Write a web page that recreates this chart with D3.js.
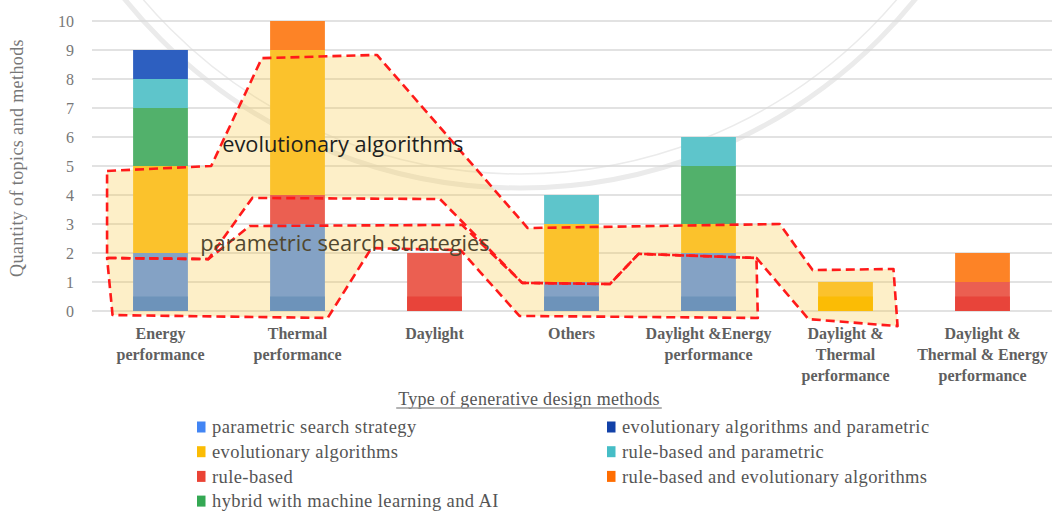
<!DOCTYPE html>
<html>
<head>
<meta charset="utf-8">
<script src="https://cdn.jsdelivr.net/npm/d3@7"></script>
<style>
  body { margin: 0; background: #fff; }
  svg { display: block; }
</style>
</head>
<body>
<div id="chart"></div>
<script>
// categories on the x axis
const categories = ["Energy performance", "Thermal performance", "Daylight", "Others",
  "Daylight & Energy performance", "Daylight & Thermal performance", "Daylight & Thermal & Energy performance"];
const categoryLines = [
  ["Energy", "performance"],
  ["Thermal", "performance"],
  ["Daylight"],
  ["Others"],
  ["Daylight &Energy", "performance"],
  ["Daylight &", "Thermal", "performance"],
  ["Daylight &", "Thermal & Energy", "performance"]
];

// series values (stack order = series order)
const parametric   = [2, 3, 0, 1, 2, 0, 0];
const ruleBased    = [0, 1, 2, 0, 0, 0, 1];
const evolutionary = [3, 5, 0, 2, 1, 1, 0];
const hybrid       = [2, 0, 0, 0, 2, 0, 0];
const ruleParam    = [1, 0, 0, 1, 1, 0, 0];
const evoParam     = [1, 0, 0, 0, 0, 0, 0];
const ruleEvo      = [0, 1, 0, 0, 0, 0, 1];

const seriesKeys = ["parametric", "ruleBased", "evolutionary", "hybrid", "ruleParam", "evoParam", "ruleEvo"];
const seriesValues = { parametric, ruleBased, evolutionary, hybrid, ruleParam, evoParam, ruleEvo };
const seriesLabels = {
  parametric: "parametric search strategy",
  evolutionary: "evolutionary algorithms",
  ruleBased: "rule-based",
  hybrid: "hybrid with machine learning and AI",
  evoParam: "evolutionary algorithms and parametric",
  ruleParam: "rule-based and parametric",
  ruleEvo: "rule-based and evolutionary algorithms"
};
const legendCol1 = ["parametric", "evolutionary", "ruleBased", "hybrid"];
const legendCol2 = ["evoParam", "ruleParam", "ruleEvo"];

const yTicks = [0, 1, 2, 3, 4, 5, 6, 7, 8, 9, 10];

// hand-drawn highlight areas, as [category position, value]
const evoArea = [[0.11, 4.83], [0.87, 5.0], [1.24, 8.72], [2.08, 8.83], [3.18, 2.86], [5.02, 3.0],
  [5.26, 1.41], [5.85, 1.45], [5.88, -0.52], [5.23, -0.28], [4.85, 1.83], [3.99, 1.97],
  [3.78, 0.93], [3.14, 0.97], [2.54, 3.86], [1.17, 3.9], [0.85, 1.79], [0.11, 1.83]];
const paramArea = [[0.11, 1.83], [0.85, 1.79], [1.15, 2.93], [2.7, 2.97], [3.14, 0.97], [3.78, 0.93],
  [3.99, 1.97], [4.85, 1.83], [4.86, -0.24], [3.12, -0.17], [2.69, 2.1], [2.04, 2.17],
  [1.72, -0.24], [0.15, -0.14]];
const areaNotes = [
  { text: "evolutionary algorithms", pos: 0.95, value: 5.76, color: "#1e1e1e" },
  { text: "parametric search strategies", pos: 0.79, value: 2.34, color: "#51472e" }
];

const barColor = {
  parametric: "#84a2c5", evolutionary: "#fbc22c", ruleBased: "#eb5f51", hybrid: "#52b16b",
  ruleParam: "#5ec5cb", evoParam: "#2d5fc0", ruleEvo: "#fd8326"
};
const barBase = {
  parametric: "#6d93ba", evolutionary: "#fbbc05", ruleBased: "#e8443a", hybrid: "#3fa85a",
  ruleParam: "#46bdc6", evoParam: "#1d4fb0", ruleEvo: "#ff6d01"
};
const legendColor = {
  parametric: "#4285f4", evolutionary: "#fbbc04", ruleBased: "#ea4335", hybrid: "#34a853",
  ruleParam: "#46bdc6", evoParam: "#1241a8", ruleEvo: "#ff6d01"
};

const width = 1052, height = 511;
const serif = "'Liberation Serif', 'DejaVu Serif', serif";

const svg = d3.select("#chart").append("svg")
  .attr("width", width).attr("height", height);

const x = d3.scaleBand().domain(categories).range([92, 1051]).paddingInner(0.6).paddingOuter(0.3);
const xPos = d3.scaleLinear().domain([0, categories.length]).range([92, 1051]);
const y = d3.scaleLinear().domain([0, 10]).range([311, 21]);

// faint seal watermark in the background
const wm = svg.append("g").attr("fill", "none").attr("stroke", "#ebebeb");
wm.append("circle").attr("cx", 520).attr("cy", -320).attr("r", 508).attr("stroke-width", 5);
wm.append("circle").attr("cx", 520).attr("cy", -320).attr("r", 494).attr("stroke-width", 1.5);

// gridlines
svg.append("g").selectAll("line").data(yTicks).join("line")
  .attr("x1", 92).attr("x2", width)
  .attr("y1", d => y(d)).attr("y2", d => y(d))
  .attr("stroke", "#d9d9d9").attr("stroke-width", 1.5);

// y tick labels
const yAxis = svg.append("g").attr("transform", "translate(92,0)")
  .call(d3.axisLeft(y).tickValues(yTicks).tickSize(0).tickPadding(18));
yAxis.select(".domain").remove();
yAxis.selectAll("text").attr("font-family", serif).attr("font-size", 16).attr("fill", "#777");

// highlight fills
const area = d3.line().x(d => xPos(d[0])).y(d => y(d[1])).curve(d3.curveLinearClosed);
const areas = svg.append("g");
[evoArea, paramArea].forEach(pts => {
  areas.append("path").attr("d", area(pts))
    .attr("fill", "rgb(249,199,64)").attr("fill-opacity", 0.29).attr("stroke", "none");
});

// stacked bars
const rows = categories.map((c, i) => {
  const r = { category: c };
  seriesKeys.forEach(k => r[k] = seriesValues[k][i]);
  return r;
});
const stacked = d3.stack().keys(seriesKeys)(rows);

const layers = svg.append("g").selectAll("g").data(stacked).join("g");
layers.selectAll("rect.main").data(s => s.map(d => ({ key: s.key, d })).filter(o => o.d[1] > o.d[0]))
  .join("rect").attr("class", "main")
  .attr("x", o => x(o.d.data.category))
  .attr("width", x.bandwidth())
  .attr("y", o => y(o.d[1]))
  .attr("height", o => y(o.d[0]) - y(o.d[1]))
  .attr("fill", o => barColor[o.key]);
// darker foot of each bar
layers.selectAll("rect.foot").data(s => s.map(d => ({ key: s.key, d })).filter(o => o.d[1] > o.d[0] && o.d[0] === 0))
  .join("rect").attr("class", "foot")
  .attr("x", o => x(o.d.data.category))
  .attr("width", x.bandwidth())
  .attr("y", o => y(Math.min(o.d[1], 0.5)))
  .attr("height", o => y(0) - y(Math.min(o.d[1], 0.5)))
  .attr("fill", o => barBase[o.key]);

// dashed outlines
[evoArea, paramArea].forEach(pts => {
  svg.append("path").attr("d", area(pts))
    .attr("fill", "none").attr("stroke", "#ff1a1a").attr("stroke-width", 2.6)
    .attr("stroke-dasharray", "9,5").attr("stroke-linejoin", "round");
});

// notes on the highlight areas
svg.append("g").selectAll("text").data(areaNotes).join("text")
  .attr("x", d => xPos(d.pos)).attr("y", d => y(d.value))
  .attr("dy", "0.35em")
  .attr("font-family", "'Open Sans', sans-serif").attr("font-size", 21.8)
  .attr("fill", d => d.color)
  .text(d => d.text);

// category labels
const catG = svg.append("g").selectAll("text").data(categories).join("text")
  .attr("x", d => x(d) + x.bandwidth() / 2)
  .attr("y", 339)
  .attr("text-anchor", "middle")
  .attr("font-family", serif).attr("font-size", 16).attr("font-weight", "bold")
  .attr("fill", "#5f5f5f");
catG.selectAll("tspan").data((d, i) => categoryLines[i]).join("tspan")
  .attr("x", function () { return this.parentNode.getAttribute("x"); })
  .attr("dy", (d, i) => i === 0 ? 0 : 21)
  .text(d => d);

// x axis title, underlined
const xTitle = svg.append("text")
  .attr("x", 529).attr("y", 405).attr("text-anchor", "middle")
  .attr("font-family", serif).attr("font-size", 18).attr("letter-spacing", 0.3).attr("fill", "#555")
  .text("Type of generative design methods");
const tw = xTitle.node().getComputedTextLength();
svg.append("line").attr("x1", 529 - tw / 2 - 2).attr("x2", 529 + tw / 2 + 2)
  .attr("y1", 408).attr("y2", 408).attr("stroke", "#9a9a9a").attr("stroke-width", 1.6);

// y axis title
svg.append("text")
  .attr("transform", "translate(23,158) rotate(-90)")
  .attr("text-anchor", "middle")
  .attr("font-family", serif).attr("font-size", 18).attr("letter-spacing", 0.4).attr("fill", "#777")
  .text("Quantity of topics and methods");

// legend
const legend = svg.append("g");
[[legendCol1, 197], [legendCol2, 607]].forEach(([keys, lx]) => {
  const items = legend.append("g").selectAll("g").data(keys).join("g")
    .attr("transform", (d, i) => `translate(${lx},${427 + i * 24.7})`);
  items.append("rect").attr("x", 0).attr("y", -5.5).attr("width", 8.5).attr("height", 11)
    .attr("fill", d => legendColor[d]);
  items.append("text").attr("x", 15).attr("dy", "0.33em")
    .attr("font-family", serif).attr("font-size", 18.5).attr("letter-spacing", 0.4).attr("fill", "#555")
    .text(d => seriesLabels[d]);
});
</script>
</body>
</html>
